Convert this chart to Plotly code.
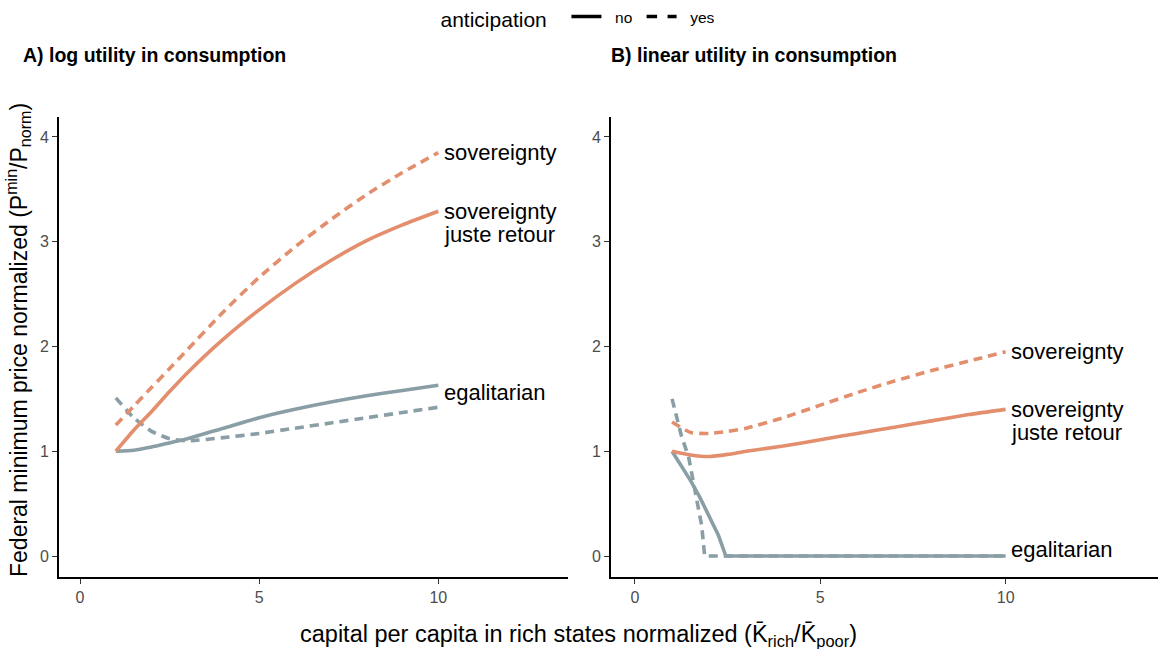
import plotly.graph_objects as go

# ---- data -------------------------------------------------------------
# A) log utility in consumption
log_x = [1, 1.5, 2, 2.5, 3, 4, 5, 6, 7, 8, 9, 10]
log_sov_no = [1.00, 1.20, 1.38, 1.57, 1.75, 2.07, 2.35, 2.60, 2.82, 3.01, 3.16, 3.29]
log_sov_yes = [1.25, 1.43, 1.61, 1.79, 1.97, 2.33, 2.66, 2.95, 3.21, 3.45, 3.66, 3.85]
log_egal_no = [1.00, 1.01, 1.04, 1.08, 1.12, 1.22, 1.32, 1.40, 1.47, 1.53, 1.58, 1.63]
log_egal_yes = [1.51, 1.32, 1.19, 1.12, 1.10, 1.13, 1.17, 1.22, 1.27, 1.32, 1.37, 1.42]

# B) linear utility in consumption
lin_x = [1, 1.5, 2, 2.5, 3, 4, 5, 6, 7, 8, 9, 10]
lin_sov_no = [1.00, 0.965, 0.95, 0.97, 1.00, 1.05, 1.11, 1.17, 1.23, 1.29, 1.35, 1.40]
lin_sov_yes = [1.28, 1.18, 1.17, 1.19, 1.22, 1.32, 1.44, 1.56, 1.67, 1.77, 1.86, 1.95]
lin_egal_no_x = [1, 1.25, 1.5, 1.75, 2, 2.25, 2.45, 3, 4, 5, 6, 7, 8, 9, 10]
lin_egal_no = [1.00, 0.86, 0.72, 0.56, 0.38, 0.20, 0.0, 0, 0, 0, 0, 0, 0, 0, 0]
lin_egal_yes_x = [1, 1.25, 1.45, 1.65, 1.8, 1.88, 3, 4, 5, 6, 7, 8, 9, 10]
lin_egal_yes = [1.50, 1.15, 0.94, 0.58, 0.29, 0.0, 0, 0, 0, 0, 0, 0, 0, 0]

# end-of-line labels: (panel, x, y, text)
labels = [
    (1, 10.1, 3.85, "sovereignty"),
    (1, 10.1, 3.29, "sovereignty"),
    (1, 10.1, 3.07, "juste retour"),
    (1, 10.1, 1.56, "egalitarian"),
    (2, 10.1, 1.95, "sovereignty"),
    (2, 10.1, 1.40, "sovereignty"),
    (2, 10.1, 1.18, "juste retour"),
    (2, 10.1, 0.06, "egalitarian"),
]

x_ticks = [0, 5, 10]
y_ticks = [0, 1, 2, 3, 4]

# ---- style ------------------------------------------------------------
ORANGE = "#E38E6D"
GREY = "#8A9FA5"
FONT = "Liberation Sans, Arial, sans-serif"
LW = 3.6
DASH = "9px,6px"

W, H = 1159, 649


def px_x(p):
    return p / W


def px_y(p):
    return 1 - p / H


fig = go.Figure()


def add_line(x, y, color, dash, axis):
    xa, ya = ("x", "y") if axis == 1 else ("x2", "y2")
    fig.add_trace(go.Scatter(
        x=x, y=y, mode="lines", xaxis=xa, yaxis=ya,
        line=dict(color=color, width=LW, dash=dash, shape="spline", smoothing=0.6),
        showlegend=False, hoverinfo="skip"))


def add_line_linear(x, y, color, dash, axis):
    xa, ya = ("x", "y") if axis == 1 else ("x2", "y2")
    fig.add_trace(go.Scatter(
        x=x, y=y, mode="lines", xaxis=xa, yaxis=ya,
        line=dict(color=color, width=LW, dash=dash),
        showlegend=False, hoverinfo="skip"))


# panel A
add_line(log_x, log_egal_yes, GREY, DASH, 1)
add_line(log_x, log_egal_no, GREY, "solid", 1)
add_line(log_x, log_sov_yes, ORANGE, DASH, 1)
add_line(log_x, log_sov_no, ORANGE, "solid", 1)

# panel B
add_line_linear(lin_egal_yes_x, lin_egal_yes, GREY, DASH, 2)
add_line_linear(lin_egal_no_x, lin_egal_no, GREY, "solid", 2)
add_line(lin_x, lin_sov_yes, ORANGE, DASH, 2)
add_line(lin_x, lin_sov_no, ORANGE, "solid", 2)

# legend entries for the linetype
for name, dash in [("\u00a0\u00a0no\u00a0", "solid"), ("\u00a0\u00a0yes", "dash")]:
    fig.add_trace(go.Scatter(
        x=[None], y=[None], mode="lines", name=name,
        line=dict(color="black", width=3.5, dash=dash),
        showlegend=True))

for panel, x, y, text in labels:
    fig.add_annotation(
        x=x, y=y, xref="x" if panel == 1 else "x2", yref="y" if panel == 1 else "y2",
        text=text, showarrow=False, xanchor="left", yanchor="middle",
        font=dict(family=FONT, size=22, color="black"))

# panel titles
for xp, text in [(21, "<b>A) log utility in consumption</b>"),
                 (609, "<b>B) linear utility in consumption</b>")]:
    fig.add_annotation(
        x=px_x(xp), y=px_y(55), xref="paper", yref="paper",
        text=text, showarrow=False, xanchor="left", yanchor="middle",
        font=dict(family=FONT, size=19.5, color="black"))

# shared axis titles
fig.add_annotation(
    x=px_x(578), y=px_y(635), xref="paper", yref="paper",
    text="capital per capita in rich states normalized (K\u0304<sub>rich</sub>/K\u0304<sub>poor</sub>)",
    showarrow=False, xanchor="center", yanchor="middle",
    font=dict(family=FONT, size=23.5, color="black"))
fig.add_annotation(
    x=px_x(18), y=px_y(340), xref="paper", yref="paper",
    text="Federal minimum price normalized (P<sup>min</sup>/P<sub>norm</sub>)",
    showarrow=False, textangle=-90, xanchor="center", yanchor="middle",
    font=dict(family=FONT, size=23, color="black"))

axis_common = dict(
    showgrid=False, zeroline=False, showline=True, linecolor="black", linewidth=1.6,
    ticks="outside", ticklen=5, tickwidth=1.2, tickcolor="#333333",
    tickfont=dict(family=FONT, size=16, color="#4D4D4D"),
)

y_dom = [px_y(577), px_y(117)]
fig.update_layout(
    width=W, height=H,
    margin=dict(l=0, r=0, t=0, b=0),
    paper_bgcolor="white", plot_bgcolor="white",
    font=dict(family=FONT),
    xaxis=dict(domain=[px_x(59), px_x(568)], range=[-0.586, 13.62],
               tickvals=x_ticks, anchor="y", **axis_common),
    yaxis=dict(domain=y_dom, range=[-0.2, 4.19], tickvals=y_ticks, anchor="x", **axis_common),
    xaxis2=dict(domain=[px_x(611), px_x(1158)], range=[-0.647, 14.11],
                tickvals=x_ticks, anchor="y2", **axis_common),
    yaxis2=dict(domain=y_dom, range=[-0.2, 4.19], tickvals=y_ticks, anchor="x2", **axis_common),
    legend=dict(
        orientation="h", x=0.5, xanchor="center", y=1.0, yanchor="top",
        title=dict(text="anticipation  ", font=dict(family=FONT, size=21, color="black")),
        font=dict(family=FONT, size=15.5, color="black"),
        itemwidth=30, bgcolor="rgba(0,0,0,0)"),
)

fig.write_html("out.html")
